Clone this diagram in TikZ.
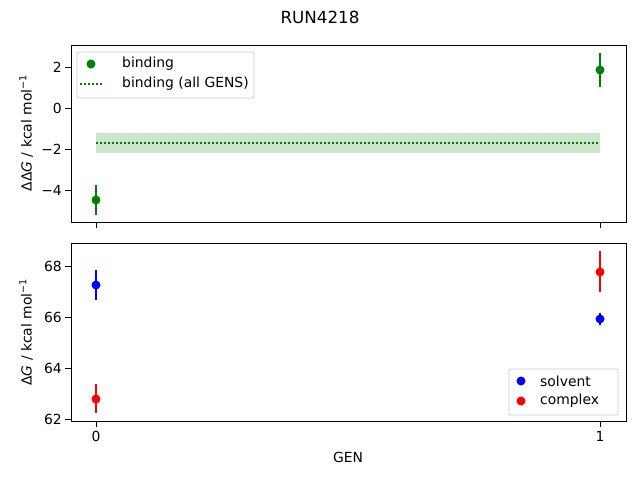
\documentclass[tikz,border=0pt]{standalone}
\usepackage{fontspec}
\setmainfont{DejaVu Sans}
\definecolor{mgreen}{RGB}{0,128,0}
\begin{document}
\begin{tikzpicture}[x=1pt,y=-1pt,font=\fontsize{13.9}{16}\selectfont,
  frame/.style={draw=black,line width=0.8pt},
  tick/.style={draw=black,line width=0.8pt},
  err/.style={line width=2pt},
  dot/.style={circle,inner sep=0pt,minimum size=9pt},
  lbl/.style={inner sep=0pt}]
\useasboundingbox (0,0) rectangle (640,480);
\node[lbl,font=\fontsize{16.7}{19}\selectfont] (title) at (320,17) {RUN4218};
% top axes
\fill[mgreen,opacity=0.2] (96,133) rectangle (600,153);
\draw[mgreen,line width=1.5pt,dash pattern=on 1.5pt off 2.5pt] (96,143) -- (600,143);
\draw[mgreen,err] (96,185) -- (96,215);
\draw[mgreen,err] (600,53) -- (600,87);
\node[dot,fill=mgreen] (g0) at (96,200) {};
\node[dot,fill=mgreen] (g1) at (600,70) {};
\draw[frame] (71,45) rectangle (626,222);
\foreach \v/\p in {2/67,0/108,−2/149,−4/190}{
  \draw[tick] (71,\p) -- (65,\p);
  \node[lbl,anchor=east] at (62,\p) {\v};}
\foreach \p in {96,600} \draw[tick] (\p,222) -- (\p,228);
\node[lbl,rotate=90] (yl1) at (26,133) {ΔΔ\textit{G} / kcal mol\textsuperscript{−1}};
% top legend
\draw[black!20,fill=white,line width=0.8pt,rounded corners=2pt] (77,52) rectangle (254,98);
\node[dot,fill=mgreen] (lg1) at (91,64) {};
\draw[mgreen,line width=1.5pt,dash pattern=on 1.5pt off 2.5pt] (80,84) -- (102,84);
\node[lbl,anchor=west] at (122,64) {binding};
\node[lbl,anchor=west] at (122,84) {binding (all GENS)};
% bottom axes
\draw[blue,err] (96,270) -- (96,300);
\draw[red,err] (96,384) -- (96,413);
\draw[red,err] (600,251) -- (600,292);
\draw[blue,err] (600,313) -- (600,325);
\node[dot,fill=blue] (b0) at (96,285) {};
\node[dot,fill=red] (r0) at (96,399) {};
\node[dot,fill=red] (r1) at (600,272) {};
\node[dot,fill=blue] (b1) at (600,319) {};
\draw[frame] (71,243) rectangle (626,421);
\foreach \v/\p in {68/266,66/317,64/368,62/419}{
  \draw[tick] (71,\p) -- (65,\p);
  \node[lbl,anchor=east] at (62,\p) {\v};}
\foreach \v/\p in {0/96,1/600}{
  \draw[tick] (\p,421) -- (\p,427);
  \node[lbl,anchor=north] at (\p,431) {\v};}
\node[lbl] (xl) at (348,457) {GEN};
\node[lbl,rotate=90] (yl2) at (26,332) {Δ\textit{G} / kcal mol\textsuperscript{−1}};
% bottom legend
\draw[black!20,fill=white,line width=0.8pt,rounded corners=2pt] (509,369) rectangle (618,415);
\node[dot,fill=blue] (lb) at (521,381) {};
\node[dot,fill=red] (lr) at (521,401) {};
\node[lbl,anchor=west] at (540,381) {solvent};
\node[lbl,anchor=west] at (540,401) {complex};
\end{tikzpicture}
\end{document}
